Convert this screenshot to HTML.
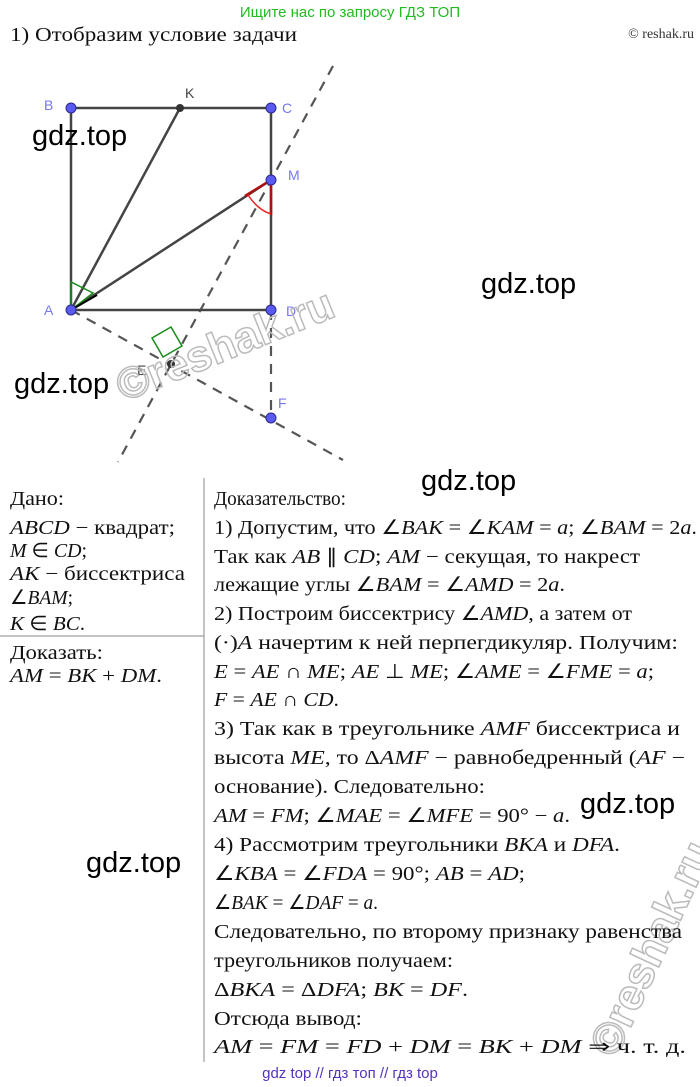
<!DOCTYPE html>
<html><head><meta charset="utf-8"><style>
html,body{margin:0;padding:0;background:#fff;}
svg{display:block;}
.t{font-family:"Liberation Serif",serif;font-size:20px;fill:#111;}
.w{font-family:"Liberation Sans",sans-serif;font-size:29px;fill:#000;}
.lb{font-family:"Liberation Sans",sans-serif;font-size:14px;fill:#7878f0;}
</style></head><body>
<svg width="700" height="1087" viewBox="0 0 700 1087" xmlns="http://www.w3.org/2000/svg">
<text x="350" y="17" text-anchor="middle" font-family="Liberation Sans, sans-serif" font-size="15" fill="#22bb22">Ищите нас по запросу ГДЗ ТОП</text>
<text x="10" y="41" class="t" font-size="18" textLength="287" lengthAdjust="spacingAndGlyphs">1) Отобразим условие задачи</text>
<text x="694" y="38" text-anchor="end" font-family="Liberation Serif, serif" font-size="14" fill="#333">© reshak.ru</text>

<g stroke="#555" stroke-width="2.2" stroke-dasharray="10,8" fill="none">
<line x1="333" y1="66" x2="118" y2="462"/>
<line x1="71" y1="310" x2="343" y2="460"/>
<line x1="271" y1="310" x2="271" y2="418"/>
</g>
<g stroke="#444" stroke-width="2.5" fill="none">
<rect x="71" y="108" width="200" height="202"/>
<line x1="71" y1="310" x2="180" y2="108"/>
<line x1="71" y1="310" x2="271" y2="180"/>
</g>
<path d="M71 282 L71 310 L93 293 Z" fill="none" stroke="#1a8a1a" stroke-width="1.5"/>
<path d="M71 310 L97 295" stroke="#000" stroke-width="2"/>
<path d="M245 196 L271 180 L271 215" fill="none" stroke="#aa1111" stroke-width="2.5"/>
<path d="M248 195 Q258 210 271 214" fill="none" stroke="#ee2222" stroke-width="1.5"/>
<path d="M152 338 L171 327 L182 346 L163 357 Z" fill="none" stroke="#1a8a1a" stroke-width="1.5"/>
<g fill="#5a5af0" stroke="#2a2a90" stroke-width="1">
<circle cx="71" cy="108" r="5"/><circle cx="271" cy="108" r="5"/>
<circle cx="71" cy="310" r="5"/><circle cx="271" cy="310" r="5"/>
<circle cx="271" cy="180" r="5"/><circle cx="271" cy="418" r="5"/>
</g>
<g fill="#333"><circle cx="180" cy="108" r="4"/><circle cx="171" cy="364" r="4"/></g>
<text x="44" y="110" class="lb">B</text>
<text x="185" y="98" class="lb" style="fill:#444">K</text>
<text x="282" y="113" class="lb">C</text>
<text x="288" y="180" class="lb">M</text>
<text x="44" y="315" class="lb">A</text>
<text x="286" y="316" class="lb">D</text>
<text x="137" y="375" class="lb" style="fill:#444">E</text>
<text x="278" y="408" class="lb">F</text>
<text x="100" y="360" font-family="Liberation Sans, sans-serif" font-size="44" font-weight="bold" fill="none" stroke="#bbb" stroke-width="1.5" transform="rotate(-22 220 320)">©reshak.ru</text>
<text x="540" y="980" font-family="Liberation Sans, sans-serif" font-size="44" font-weight="bold" fill="none" stroke="#bbb" stroke-width="1.5" transform="rotate(-65 640 960)">©reshak.ru</text>

<line x1="204" y1="478" x2="204" y2="1062" stroke="#888" stroke-width="1"/>
<line x1="0" y1="636" x2="204" y2="636" stroke="#888" stroke-width="1"/>

<g class="t">
<text x="10" y="505" textLength="54" lengthAdjust="spacingAndGlyphs">Дано:</text>
<text x="10" y="534" textLength="165" lengthAdjust="spacingAndGlyphs"><tspan font-style="italic">ABCD</tspan> − квадрат;</text>
<text x="10" y="557" textLength="77" lengthAdjust="spacingAndGlyphs"><tspan font-style="italic">M</tspan> ∈ <tspan font-style="italic">CD</tspan>;</text>
<text x="10" y="580" textLength="175" lengthAdjust="spacingAndGlyphs"><tspan font-style="italic">AK</tspan> − биссектриса</text>
<text x="10" y="604" textLength="63" lengthAdjust="spacingAndGlyphs">∠<tspan font-style="italic">BAM</tspan>;</text>
<text x="10" y="630" textLength="75" lengthAdjust="spacingAndGlyphs"><tspan font-style="italic">K</tspan> ∈ <tspan font-style="italic">BC</tspan>.</text>
<text x="10" y="659" textLength="93" lengthAdjust="spacingAndGlyphs">Доказать:</text>
<text x="10" y="682" textLength="152" lengthAdjust="spacingAndGlyphs"><tspan font-style="italic">AM</tspan> = <tspan font-style="italic">BK</tspan> + <tspan font-style="italic">DM</tspan>.</text>
</g>

<g class="t">
<text x="214" y="505" textLength="132" lengthAdjust="spacingAndGlyphs">Доказательство:</text>
<text x="214" y="534" textLength="483" lengthAdjust="spacingAndGlyphs">1) Допустим, что ∠<tspan font-style="italic">BAK</tspan> = ∠<tspan font-style="italic">KAM</tspan> = <tspan font-style="italic">a</tspan>;  ∠<tspan font-style="italic">BAM</tspan> = 2<tspan font-style="italic">a</tspan>.</text>
<text x="214" y="563" textLength="426" lengthAdjust="spacingAndGlyphs">Так как <tspan font-style="italic">AB</tspan> ∥ <tspan font-style="italic">CD</tspan>;  <tspan font-style="italic">AM</tspan> − секущая, то накрест</text>
<text x="214" y="591" textLength="351" lengthAdjust="spacingAndGlyphs">лежащие углы ∠<tspan font-style="italic">BAM</tspan> = ∠<tspan font-style="italic">AMD</tspan> = 2<tspan font-style="italic">a</tspan>.</text>
<text x="214" y="620" textLength="418" lengthAdjust="spacingAndGlyphs">2) Построим биссектрису ∠<tspan font-style="italic">AMD</tspan>, а затем от</text>
<text x="214" y="649" textLength="464" lengthAdjust="spacingAndGlyphs">(·)<tspan font-style="italic">A</tspan> начертим к ней перпегдикуляр. Получим:</text>
<text x="214" y="678" textLength="440" lengthAdjust="spacingAndGlyphs"><tspan font-style="italic">E</tspan> = <tspan font-style="italic">AE</tspan> ∩ <tspan font-style="italic">ME</tspan>;  <tspan font-style="italic">AE</tspan> ⊥ <tspan font-style="italic">ME</tspan>;  ∠<tspan font-style="italic">AME</tspan> = ∠<tspan font-style="italic">FME</tspan> = <tspan font-style="italic">a</tspan>;</text>
<text x="214" y="706" textLength="125" lengthAdjust="spacingAndGlyphs"><tspan font-style="italic">F</tspan> = <tspan font-style="italic">AE</tspan> ∩ <tspan font-style="italic">CD</tspan>.</text>
<text x="214" y="735" textLength="466" lengthAdjust="spacingAndGlyphs">3) Так как в треугольнике <tspan font-style="italic">AMF</tspan> биссектриса и</text>
<text x="214" y="764" textLength="471" lengthAdjust="spacingAndGlyphs">высота <tspan font-style="italic">ME</tspan>, то Δ<tspan font-style="italic">AMF</tspan> − равнобедренный (<tspan font-style="italic">AF</tspan> −</text>
<text x="214" y="793" textLength="271" lengthAdjust="spacingAndGlyphs">основание). Следовательно:</text>
<text x="214" y="822" textLength="356" lengthAdjust="spacingAndGlyphs"><tspan font-style="italic">AM</tspan> = <tspan font-style="italic">FM</tspan>;  ∠<tspan font-style="italic">MAE</tspan> = ∠<tspan font-style="italic">MFE</tspan> = 90° − <tspan font-style="italic">a</tspan>.</text>
<text x="214" y="851" textLength="406" lengthAdjust="spacingAndGlyphs">4) Рассмотрим треугольники <tspan font-style="italic">BKA</tspan> и <tspan font-style="italic">DFA</tspan>.</text>
<text x="214" y="880" textLength="311" lengthAdjust="spacingAndGlyphs">∠<tspan font-style="italic">KBA</tspan> = ∠<tspan font-style="italic">FDA</tspan> = 90°;  <tspan font-style="italic">AB</tspan> = <tspan font-style="italic">AD</tspan>;</text>
<text x="214" y="909" textLength="164" lengthAdjust="spacingAndGlyphs">∠<tspan font-style="italic">BAK</tspan> = ∠<tspan font-style="italic">DAF</tspan> = <tspan font-style="italic">a</tspan>.</text>
<text x="214" y="938" textLength="468" lengthAdjust="spacingAndGlyphs">Следовательно, по второму признаку равенства</text>
<text x="214" y="967" textLength="239" lengthAdjust="spacingAndGlyphs">треугольников получаем:</text>
<text x="214" y="996" textLength="254" lengthAdjust="spacingAndGlyphs">Δ<tspan font-style="italic">BKA</tspan> = Δ<tspan font-style="italic">DFA</tspan>;   <tspan font-style="italic">BK</tspan> = <tspan font-style="italic">DF</tspan>.</text>
<text x="214" y="1025" textLength="148" lengthAdjust="spacingAndGlyphs">Отсюда  вывод:</text>
<text x="214" y="1053" textLength="472" lengthAdjust="spacingAndGlyphs"><tspan font-style="italic">AM</tspan> = <tspan font-style="italic">FM</tspan> = <tspan font-style="italic">FD</tspan> + <tspan font-style="italic">DM</tspan> = <tspan font-style="italic">BK</tspan> + <tspan font-style="italic">DM</tspan> ⇒ ч. т. д.</text>
</g>

<g class="w">
<text x="32" y="145">gdz.top</text>
<text x="481" y="293">gdz.top</text>
<text x="14" y="393">gdz.top</text>
<text x="421" y="490">gdz.top</text>
<text x="580" y="813">gdz.top</text>
<text x="86" y="872">gdz.top</text>
</g>
<text x="350" y="1078" text-anchor="middle" font-family="Liberation Sans, sans-serif" font-size="15" fill="#5533bb">gdz top  //  гдз топ  //  гдз top</text>
</svg>
</body></html>
